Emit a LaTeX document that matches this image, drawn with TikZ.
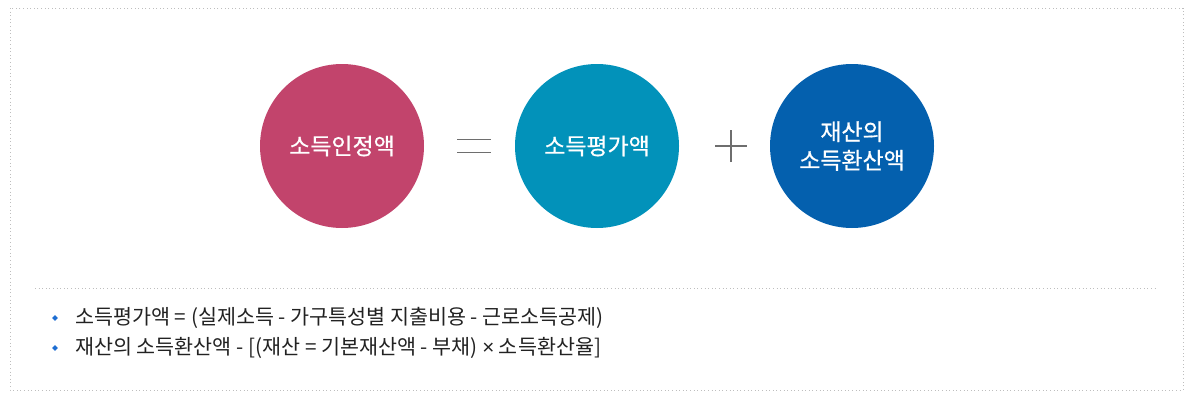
\documentclass[tikz,border=0pt]{standalone}
\usepackage{fontspec}
\setmainfont{Noto Sans CJK KR}
\newfontfamily\circfont[FakeBold=0.6]{Noto Sans CJK KR}
\newfontfamily\latinfont{Liberation Sans}
\definecolor{incpink}{RGB}{194,68,108}
\definecolor{incteal}{RGB}{2,146,186}
\definecolor{incblue}{RGB}{4,96,174}
\definecolor{dotgray}{RGB}{190,190,190}
\definecolor{opgray}{RGB}{110,110,110}
\definecolor{bulblue}{RGB}{30,110,210}
\definecolor{txtgray}{RGB}{34,34,34}
\usetikzlibrary{positioning,shapes.geometric}

\begin{document}
\begin{tikzpicture}[x=0.75pt, y=-0.75pt,
    amtcircle/.style={circle, minimum size=123pt, inner sep=0pt, text=white,
                      font=\circfont\fontsize{17.2}{21.5}\selectfont, align=center},
    opline/.style={opgray, line width=0.8pt},
    noteline/.style={font=\fontsize{15.5}{17}\selectfont, text=txtgray, anchor=west, inner sep=0pt},
    bulletdot/.style={diamond, fill=bulblue, inner sep=0pt, minimum size=4.5pt},
    frame/.style={dotgray, dotted, line width=0.7pt}
  ]
    \useasboundingbox (0,0) rectangle (1192,400);

    % --- outer frame ---
    \draw[frame] (10,8) rectangle (1183,390);

    % --- circles ---
    \node[amtcircle, fill=incpink] (recog) at (342,146) {소득인정액};
    \node[amtcircle, fill=incteal] (evalamt) at (597,146) {소득평가액};
    \node[amtcircle, fill=incblue] (propconv) at (852,146) {재산의\\소득환산액};

    % equals sign
    \coordinate (eq) at (474,146);
    \draw[opline] ([xshift=-12.4pt, yshift=-4.9pt]eq) -- ([xshift=12.4pt, yshift=-4.9pt]eq);
    \draw[opline] ([xshift=-12.4pt, yshift=4.9pt]eq) -- ([xshift=12.4pt, yshift=4.9pt]eq);

    % plus sign
    \coordinate (pl) at (731,146);
    \draw[opline] ([xshift=-12pt]pl) -- ([xshift=12pt]pl);
    \draw[opline] ([yshift=-12pt]pl) -- ([yshift=12pt]pl);

    % --- divider ---
    \draw[frame] (35,288) -- (1157,288);

    % --- notes ---
    \node[bulletdot] (b1) at (55,318) {};
    \node[bulletdot] (b2) at (55,348) {};
    \node[noteline] (n1) at (75,318) {소득평가액 = (실제소득 - 가구특성별 지출비용 - 근로소득공제)};
    \node[noteline] (n2) at (75,348) {재산의 소득환산액 - [(재산 = 기본재산액 - 부채) {\latinfont×} 소득환산율]};
  \end{tikzpicture}
\end{document}
